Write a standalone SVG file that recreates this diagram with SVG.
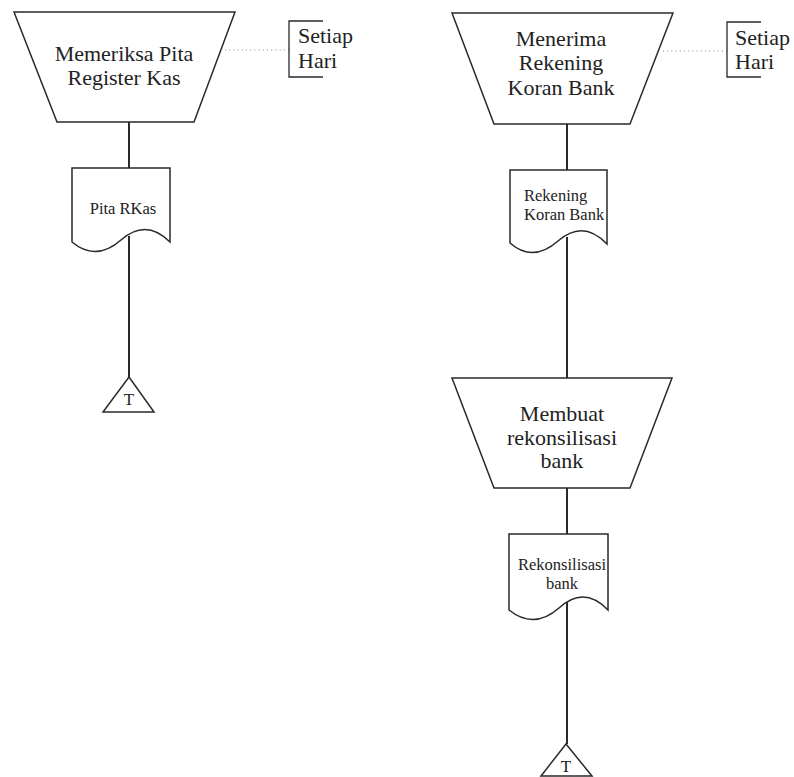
<svg xmlns="http://www.w3.org/2000/svg" width="794" height="777" viewBox="0 0 794 777">
  <style>
    .shape { fill: #ffffff; stroke: #2a2a2a; stroke-width: 1.5; stroke-linejoin: miter; }
    .flow { fill: none; stroke: #2a2a2a; stroke-width: 2; }
    .dot { fill: none; stroke: #888888; stroke-width: 1; stroke-dasharray: 1 3.2; }
    .bracket { fill: none; stroke: #2a2a2a; stroke-width: 1.3; }
    text { font-family: "Liberation Serif", "Times New Roman", serif; fill: #222222; }
    .big { font-size: 22px; }
    .small { font-size: 16.5px; }
    .tri { font-size: 17px; }
    .mid { text-anchor: middle; }
  </style>

  <!-- vertical flow connectors -->
  <g id="connectors">
    <line class="flow" x1="129" y1="122" x2="129" y2="168"/>
    <line class="flow" x1="129" y1="236" x2="129" y2="377"/>
    <line class="flow" x1="567" y1="124" x2="567" y2="170"/>
    <line class="flow" x1="567" y1="237" x2="567" y2="378"/>
    <line class="flow" x1="567" y1="488" x2="567" y2="534"/>
    <line class="flow" x1="567" y1="598" x2="567" y2="744"/>
    <line class="dot" x1="225" y1="50" x2="289" y2="50"/>
    <line class="dot" x1="663" y1="51" x2="727" y2="51"/>
  </g>

  <!-- left column -->
  <g id="manual-memeriksa">
    <polygon class="shape" points="14,12 235,12 194,122 57,122"/>
    <text class="big mid" x="124" y="61">Memeriksa Pita</text>
    <text class="big mid" x="124" y="85">Register Kas</text>
  </g>
  <g id="note-left">
    <polyline class="bracket" points="323,21 289,21 289,77 323,77"/>
    <text class="big" x="298" y="43">Setiap</text>
    <text class="big" x="298" y="68">Hari</text>
  </g>
  <g id="doc-pita">
    <path class="shape" d="M72,168 H170 V242 Q146,218 121,240 Q96,262 72,242 Z"/>
    <text class="small mid" x="123" y="214">Pita RKas</text>
  </g>
  <g id="file-left">
    <polygon class="shape" points="129,377 154,412 103,412"/>
    <text class="tri mid" x="129" y="405">T</text>
  </g>

  <!-- right column -->
  <g id="manual-menerima">
    <polygon class="shape" points="452,13 673,13 630,124 494,124"/>
    <text class="big mid" x="561" y="46">Menerima</text>
    <text class="big mid" x="561" y="70">Rekening</text>
    <text class="big mid" x="561" y="95">Koran Bank</text>
  </g>
  <g id="note-right">
    <polyline class="bracket" points="761,22 727,22 727,77 761,77"/>
    <text class="big" x="735" y="45">Setiap</text>
    <text class="big" x="735" y="69">Hari</text>
  </g>
  <g id="doc-rekening">
    <path class="shape" d="M510,170 H607 V244 Q583,219 558,241 Q533,263 510,243 Z"/>
    <text class="small" x="524" y="201">Rekening</text>
    <text class="small" x="524" y="220">Koran Bank</text>
  </g>
  <g id="manual-membuat">
    <polygon class="shape" points="452,378 672,378 630,488 494,488"/>
    <text class="big mid" x="562" y="421">Membuat</text>
    <text class="big mid" x="562" y="445">rekonsilisasi</text>
    <text class="big mid" x="562" y="468">bank</text>
  </g>
  <g id="doc-rekonsiliasi">
    <path class="shape" d="M509,534 H608 V610 Q584,585 559,608 Q534,630 509,610 Z"/>
    <text class="small mid" x="562" y="570">Rekonsilisasi</text>
    <text class="small mid" x="562" y="589">bank</text>
  </g>
  <g id="file-right">
    <polygon class="shape" points="566,744 592,776 541,776"/>
    <text class="tri mid" x="566" y="772">T</text>
  </g>
</svg>
